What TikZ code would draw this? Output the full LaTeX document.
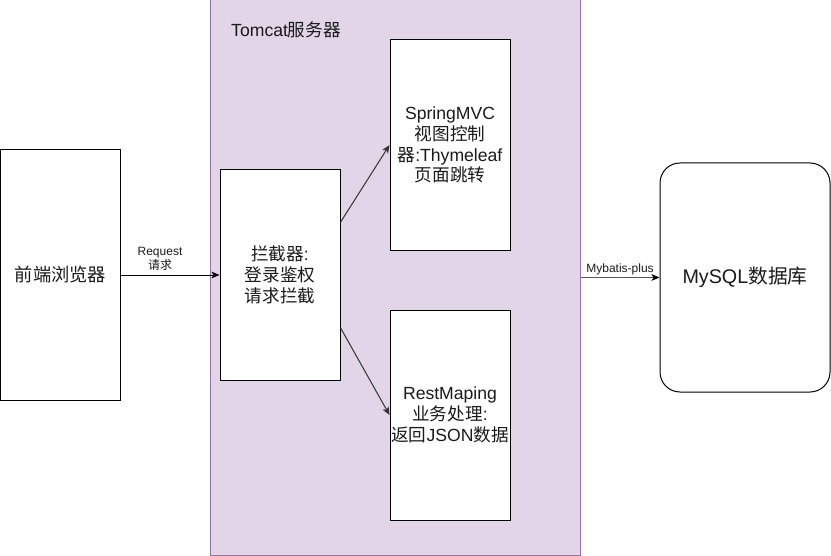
\documentclass[tikz,border=0pt]{standalone}
\usepackage{fontspec}
\setmainfont{Liberation Sans}
\newfontfamily\cjk{Noto Sans CJK SC}
\usetikzlibrary{arrows.meta,calc}
\newcommand\zh[1]{{\cjk #1}}
\definecolor{purfill}{HTML}{E1D5E7}
\definecolor{purline}{HTML}{9673A6}
\definecolor{txt}{HTML}{1A1A1A}
\tikzset{
  box/.style={draw=black, fill=white, line width=0.75pt, inner sep=0pt,
    minimum width=90pt, minimum height=157.5pt, align=center, text=txt,
    font=\fontsize{13.2}{15.6}\selectfont},
  arr/.style={line width=0.75pt, -{Stealth[length=6pt,width=5pt,inset=1.5pt]}},
  lbl/.style={inner sep=0pt, align=center, text=txt, font=\fontsize{9}{10}\selectfont}
}
\begin{document}
\begin{tikzpicture}[x=0.75pt,y=-0.75pt]
\useasboundingbox (0,0) rectangle (831,556);
% container
\node[draw=purline, fill=purfill, line width=0.75pt, inner sep=0pt,
  minimum width=277.5pt, minimum height=416.25pt] (tomcat) at (395,277.5) {};
\node[inner sep=0pt, text=txt, font=\fontsize{13.2}{15.6}\selectfont] (title) at (286,30) {Tomcat\zh{服务器}};
% boxes
\node[box, minimum height=187.5pt, font=\fontsize{13.7}{16}\selectfont] (browser) at (60.5,275) {\zh{前端浏览器}};
\node[box] (inter) at (280,275) {\zh{拦截器}:\\\zh{登录鉴权}\\\zh{请求拦截}};
\node[box] (spring) at (450,145) {SpringMVC\\\zh{视图控制}\\\zh{器}:Thymeleaf\\\zh{页面跳转}};
\node[box] (rest) at (450,415) {RestMaping\\\zh{业务处理}:\\\zh{返回}JSON\zh{数据}};
\node[box, rounded corners=15pt, minimum width=127.5pt, minimum height=171.75pt,
  font=\fontsize{14.8}{17}\selectfont] (mysql) at (745,277.5) {MySQL\zh{数据库}};
% connectors
\draw[arr, black] (browser.east) -- (inter.west);
\node[lbl] (reqlbl) at (160,259) {Request\\\zh{请求}};
\draw[arr, black!80] ($(inter.north east)!0.25!(inter.south east)$) -- (spring.west);
\draw[arr, black!80] ($(inter.north east)!0.75!(inter.south east)$) -- (rest.west);
\draw[arr, black!65, -{Stealth[length=6pt,width=5pt,inset=1.5pt,color=black]}] (mysql.west -| tomcat.east) -- (mysql.west);
\node[lbl, anchor=south] (mblbl) at (620,275) {Mybatis-plus};
\end{tikzpicture}
\end{document}
